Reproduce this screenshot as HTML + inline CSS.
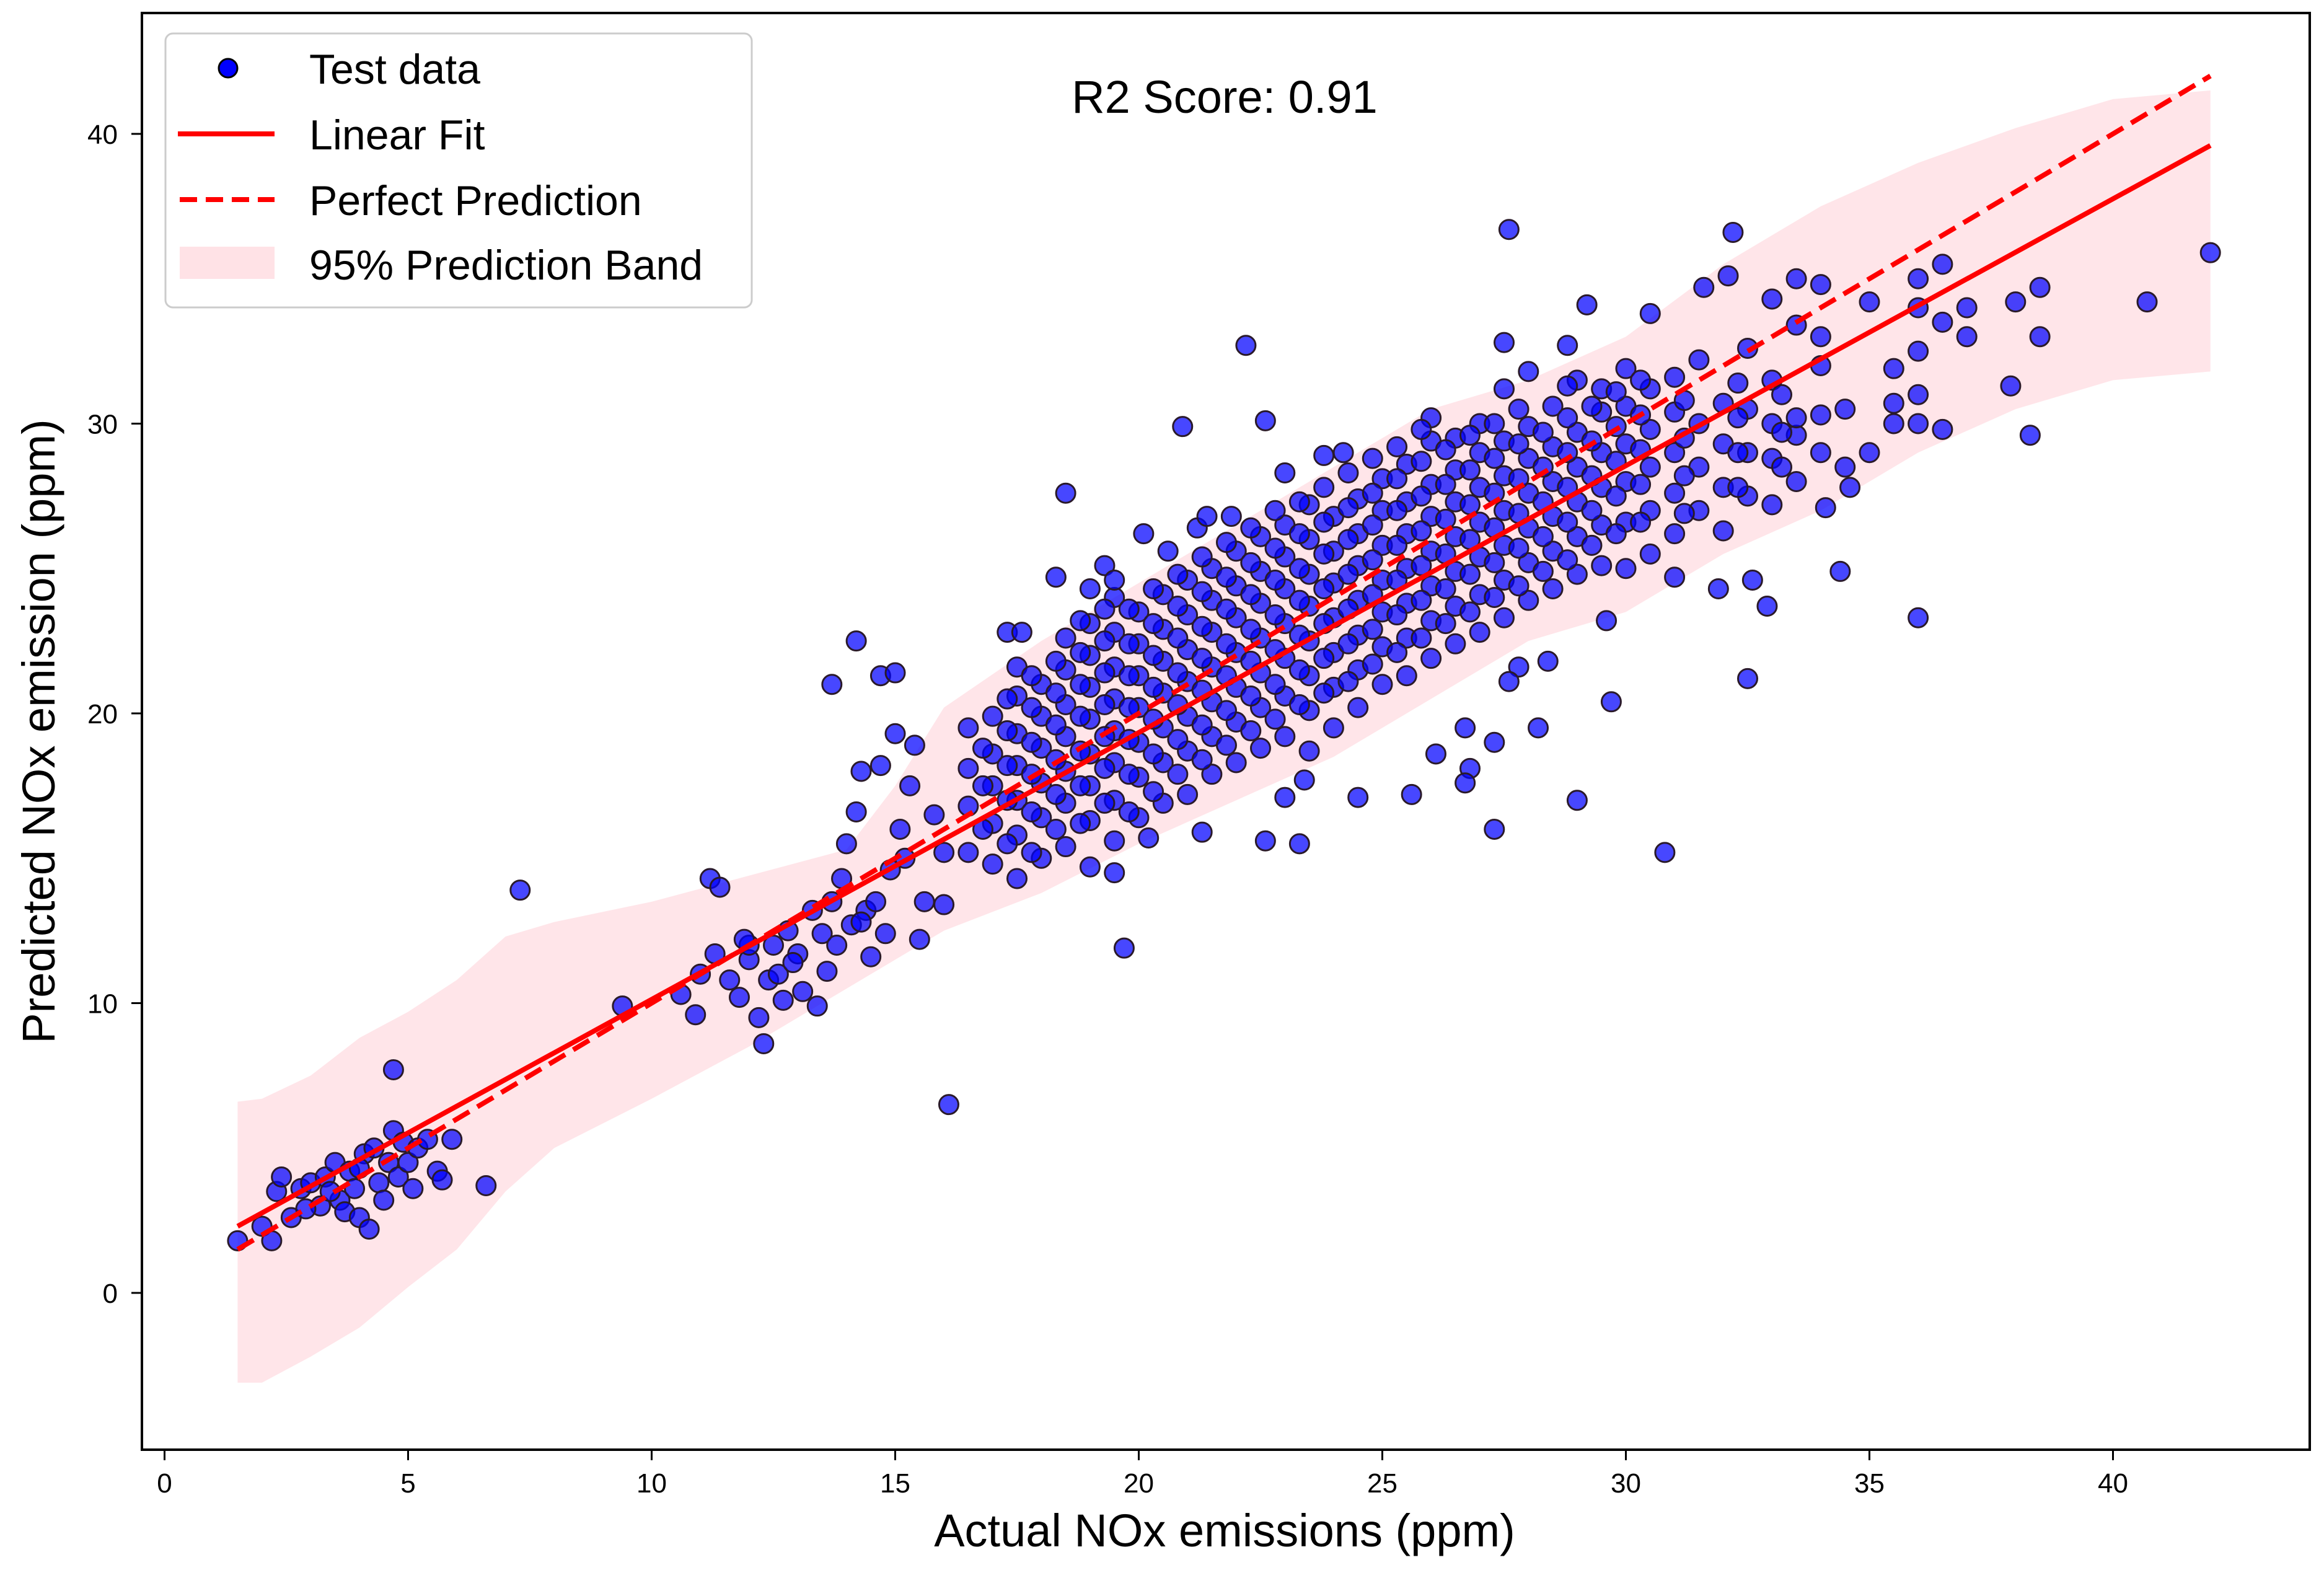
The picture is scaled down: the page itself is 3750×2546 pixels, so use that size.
<!DOCTYPE html>
<html><head><meta charset="utf-8"><style>
html,body{margin:0;padding:0;background:#fff}
svg{display:block;font-family:"Liberation Sans",Arial,sans-serif}
</style></head><body>
<svg id="chart" width="3750" height="2546" viewBox="0 0 3750 2546" xmlns="http://www.w3.org/2000/svg">
<rect width="3750" height="2546" fill="#fff"/>
<g id="band"></g>
<g id="pts"></g>
<g id="lines"></g>
<rect x="229" y="21" width="3498" height="2318" fill="none" stroke="#000" stroke-width="4"/>
<g id="ticks"></g>
<text x="1976" y="2495" font-size="74" text-anchor="middle">Actual NOx emissions (ppm)</text>
<text x="0" y="0" font-size="74" text-anchor="middle" transform="translate(88,1180) rotate(-90)">Predicted NOx emission (ppm)</text>
<text x="1976" y="182" font-size="74" text-anchor="middle">R2 Score: 0.91</text>
<g>
<rect x="267" y="54" width="946" height="442" rx="12" fill="#fff" fill-opacity="0.85" stroke="#ccc" stroke-width="3"/>
<g><circle cx="368" cy="110" r="15" fill="#0000ff" stroke="#000" stroke-width="3"/><text x="499" y="135" font-size="68">Test data</text></g>
<g><line x1="287" y1="216" x2="443" y2="216" stroke="#ff0000" stroke-width="8"/><text x="499" y="241" font-size="68">Linear Fit</text></g>
<g><line x1="290" y1="322" x2="443" y2="322" stroke="#ff0000" stroke-width="8" stroke-dasharray="28,14"/><text x="499" y="347" font-size="68">Perfect Prediction</text></g>
<g><rect x="290" y="398" width="153" height="52" fill="#ffe2e6"/><text x="499" y="451" font-size="68">95% Prediction Band</text></g>
</g>
</svg>
<script>
const xTicks=[0,5,10,15,20,25,30,35,40];
const yTicks=[0,10,20,30,40];
const bandX=[1.5,2,3,4,5,6,7,8,10,12,14,15,16,18,20,22,24,26,28,30,32,34,36,38,40,42];
const bandUpper=[6.6,6.7,7.5,8.8,9.7,10.8,12.3,12.8,13.5,14.4,15.3,17.5,20.2,22.5,24.5,26.5,28.5,30.5,31.5,33,35.5,37.5,39,40.2,41.2,41.5];
const bandLower=[-3.1,-3.1,-2.2,-1.2,0.2,1.5,3.5,5,6.7,8.5,10.5,11.5,12.5,13.8,15.5,17,18.5,20.5,22.5,23.5,25.5,27,29,30.5,31.5,31.8];
const fitX=[1.5,42];const fitY=[2.3,39.6];
const perfX=[1.5,42];const perfY=[1.5,42];
const ptX=[1.5,2.0,2.2,2.3,2.4,2.6,2.8,3.0,3.2,3.3,3.5,3.6,3.7,3.8,3.9,4.0,4.1,4.2,4.3,4.4,4.5,4.6,4.7,4.7,4.8,4.9,5.0,5.1,5.2,5.4,5.6,5.7,5.9,6.6,3.4,2.9,4.0,
7.3,9.4,16.1,19.7,13.7,14.2,14.7,15.0,17.3,17.6,18.5,18.3,19.3,19.0,19.5,20.1,20.6,20.9,21.2,21.4,21.9,22.2,22.6,23.0,23.8,24.2,27.6,27.5,28.8,29.2,32.2,32.1,31.6,42.0,40.7,38.3,37.9,36.0,34.6,34.4,34.1,32.9,32.6,32.5,31.9,30.8,29.7,29.6,29.0,28.2,28.4,27.8,27.6,27.3,27.3,26.7,26.8,26.7,26.1,25.6,24.5,23.3,22.6,23.0,21.3,23.4,20.2,19.5,
10.6,10.9,11.0,11.2,11.4,11.3,11.6,11.8,12.0,12.2,12.3,12.4,12.5,12.6,12.8,13.0,13.1,13.3,13.4,13.5,13.7,13.8,13.9,14.0,14.1,14.2,14.3,14.4,14.5,14.6,14.7,14.8,15.0,15.1,15.2,15.3,15.4,15.5,15.6,15.8,16.0,16.0,12.0,12.9,13.6,11.9,12.7,14.9,14.3];
const ptY=[1.8,2.3,1.8,3.5,4.0,2.6,3.6,3.8,3.0,4.0,4.5,3.2,2.8,4.2,3.6,2.6,4.8,2.2,5.0,3.8,3.2,4.5,5.6,7.7,4.0,5.2,4.5,3.6,5.0,5.3,4.2,3.9,5.3,3.7,3.5,2.9,4.3,
13.9,9.9,6.5,11.9,21.0,22.5,21.3,21.4,22.8,22.8,27.6,24.7,25.1,24.3,24.6,26.2,25.6,29.9,26.4,26.8,26.8,32.7,30.1,28.3,28.9,29.0,36.7,32.8,32.7,34.1,36.6,35.1,34.7,35.9,34.2,29.6,31.3,23.3,27.8,24.9,27.1,23.7,24.6,21.2,24.3,15.2,20.4,23.2,17.0,19.5,21.8,21.6,21.1,19.0,16.0,19.5,18.1,17.6,18.6,17.2,17.1,15.5,15.6,17.1,15.9,17.7,15.7,14.5,
10.3,9.6,11.0,14.3,14.0,11.7,10.8,10.2,11.5,9.5,8.6,10.8,12.0,11.0,12.5,11.7,10.4,13.2,9.9,12.4,13.5,12.0,14.3,15.5,12.7,16.6,18.0,13.2,11.6,13.5,18.2,12.4,19.3,16.0,15.0,17.5,18.9,12.2,13.5,16.5,15.2,13.4,12.0,11.4,11.1,12.2,10.1,14.6,12.8];
const clusterX=[16.5,17,17.5,18,18.5,19,19.5,20,20.5,21,21.5,22,22.5,23,23.5,24,24.5,25,25.5,26,26.5,27,27.5,28,28.5,29,29.5,30,30.5,31,31.5,32,32.5,33,33.5,34,34.5,35,35.5,36,36.5,37,38,38.5];
const clusterY=[[15.2,16.8,18.1,19.5],[14.8,16.2,17.5,18.6,19.9],[14.3,15.8,17.0,18.2,19.3,20.6,21.6],[15.0,16.4,17.6,18.8,19.9,21.0],[15.4,16.9,18.0,19.2,20.3,21.5,22.6],[14.7,16.3,17.5,18.6,19.8,20.9,22.0,23.1],[15.6,17.0,18.3,19.4,20.5,21.6,22.8,24.0],[16.4,17.8,19.0,20.2,21.3,22.4,23.5],[16.9,18.3,19.5,20.7,21.8,22.9,24.1],[17.2,18.7,19.9,21.1,22.2,23.4,24.6],[17.9,19.2,20.4,21.6,22.8,23.9,25.0],[18.3,19.7,20.9,22.1,23.3,24.4,25.6],[18.8,20.2,21.4,22.6,23.8,24.9,26.1],[19.2,20.6,21.9,23.1,24.3,25.4,26.5],[18.7,20.1,21.3,22.5,23.7,24.8,26.0,27.2],[19.5,20.9,22.1,23.3,24.5,25.6,26.8],[20.2,21.5,22.7,23.9,25.1,26.2,27.4],[21.0,22.3,23.5,24.6,25.8,27.0,28.1],[21.3,22.6,23.8,25.0,26.2,27.3,28.6],[21.9,23.2,24.4,25.6,26.8,27.9,29.4,30.2],[22.4,23.7,24.9,26.1,27.3,28.4,29.5],[22.8,24.1,25.4,26.6,27.8,29.0,30.0],[23.3,24.6,25.8,27.0,28.2,29.4,31.2],[23.9,25.2,26.4,27.6,28.8,29.9,31.8],[24.3,25.6,26.8,28.0,29.2,30.6],[24.8,26.1,27.3,28.5,29.7,31.5],[25.1,26.5,27.8,29.0,30.4,31.2],[25.0,26.6,28.0,29.3,30.6,31.9],[25.5,27.0,28.5,29.8,31.2,33.8],[24.7,26.2,27.6,29.0,30.4,31.6],[27.0,28.5,30.0,32.2],[26.3,27.8,29.3,30.7],[27.5,29.0,30.5,32.6],[27.2,28.8,30.0,31.5,34.3],[28.0,29.6,30.2,33.4,35.0],[29.0,30.3,32.0,33.0,34.8],[28.5,30.5],[29.0,34.2],[30.0,31.9,30.7],[31.0,32.5,34.0,35.0,30.0],[33.5,35.5,29.8],[33.0,34.0],[34.2],[34.7,33.0]];
const cluster2X=[16.8,17.3,17.8,18.3,18.8,19.3,19.8,20.3,20.8,21.3,21.8,22.3,22.8,23.3,23.8,24.3,24.8,25.3,25.8,26.3,26.8,27.3,27.8,28.3,28.8,29.3,29.8,30.3,31.2,32.3,33.2];
const cluster2Y=[[16.0,17.5,18.8],[15.5,17.0,18.2,19.4,20.5],[15.2,16.6,17.9,19.0,20.2,21.3],[16.0,17.2,18.4,19.6,20.7,21.8],[16.2,17.5,18.7,19.9,21.0,22.1,23.2],[16.9,18.1,19.2,20.3,21.4,22.5,23.6],[16.6,17.9,19.1,20.2,21.3,22.4,23.6],[17.3,18.6,19.8,20.9,22.0,23.1,24.3],[17.9,19.1,20.3,21.4,22.6,23.7,24.8],[18.4,19.6,20.8,21.9,23.0,24.2,25.4],[18.9,20.1,21.3,22.4,23.6,24.7,25.9],[19.4,20.6,21.8,22.9,24.1,25.2,26.4],[19.8,21.0,22.2,23.4,24.6,25.7,27.0],[20.3,21.5,22.7,23.9,25.0,26.2,27.3],[20.7,21.9,23.1,24.3,25.5,26.6,27.8],[21.1,22.4,23.6,24.8,26.0,27.1,28.3],[21.7,22.9,24.1,25.3,26.5,27.6,28.8],[22.1,23.4,24.6,25.8,27.0,28.1,29.2],[22.6,23.9,25.1,26.3,27.5,28.7,29.8],[23.1,24.3,25.5,26.7,27.9,29.1],[23.5,24.8,26.0,27.2,28.4,29.6],[24.0,25.2,26.4,27.6,28.8,30.0],[24.4,25.7,26.9,28.1,29.3,30.5],[24.9,26.1,27.3,28.5,29.7],[25.3,26.6,27.8,29.0,30.2,31.3],[25.8,27.0,28.2,29.4,30.6],[26.2,27.5,28.7,29.9,31.1],[26.6,27.9,29.1,30.3,31.5],[26.9,28.2,29.5,30.8],[27.8,29.0,30.2,31.4],[28.5,29.7,31.0]];

const NS='http://www.w3.org/2000/svg';
function sx(v){return 265.5+v*78.6;}
function sy(v){return 2086-v*46.75;}
function mk(tag,attrs,parent){const e=document.createElementNS(NS,tag);for(const k in attrs)e.setAttribute(k,attrs[k]);parent.appendChild(e);return e;}

let d='M'+sx(bandX[0])+','+sy(bandUpper[0]);
for(let i=1;i<bandX.length;i++)d+=' L'+sx(bandX[i])+','+sy(bandUpper[i]);
for(let i=bandX.length-1;i>=0;i--)d+=' L'+sx(bandX[i])+','+sy(bandLower[i]);
d+=' Z';
const band=mk('path',{d:d,fill:'#ffc0cb','fill-opacity':'0.42'},document.getElementById('band'));



const pg=document.getElementById('pts');
const allX=[],allY=[];
for(let i=0;i<clusterX.length;i++)for(const y of clusterY[i]){allX.push(clusterX[i]);allY.push(y);}
for(let i=0;i<cluster2X.length;i++)for(const y of cluster2Y[i]){allX.push(cluster2X[i]);allY.push(y);}
for(let i=0;i<ptX.length;i++){allX.push(ptX[i]);allY.push(ptY[i]);}
for(let i=0;i<allX.length;i++){
  const c=mk('circle',{cx:sx(allX[i]),cy:sy(allY[i]),r:15.5,fill:'#0000ff','fill-opacity':'0.72',stroke:'#2a1a2a','stroke-width':'3'},pg);
  
  
}

const lg=document.getElementById('lines');
const fl=mk('line',{x1:sx(fitX[0]),y1:sy(fitY[0]),x2:sx(fitX[1]),y2:sy(fitY[1]),stroke:'#ff0000','stroke-width':'8'},lg);


const pl=mk('line',{x1:sx(perfX[0]),y1:sy(perfY[0]),x2:sx(perfX[1]),y2:sy(perfY[1]),stroke:'#ff0000','stroke-width':'8','stroke-dasharray':'30,15'},lg);



const tg=document.getElementById('ticks');
for(const t of xTicks){
  const l=mk('line',{x1:sx(t),y1:2339,x2:sx(t),y2:2356,stroke:'#000','stroke-width':'3'},tg);
  
  
  const tx=mk('text',{x:sx(t),y:2408,'font-size':'44','text-anchor':'middle'},tg);
  tx.textContent=t;
  
  
}
for(const t of yTicks){
  const l=mk('line',{x1:212,y1:sy(t),x2:229,y2:sy(t),stroke:'#000','stroke-width':'3'},tg);
  
  
  const tx=mk('text',{x:190,y:sy(t)+16,'font-size':'44','text-anchor':'end'},tg);
  tx.textContent=t;
  
  
}
</script>
</body></html>
